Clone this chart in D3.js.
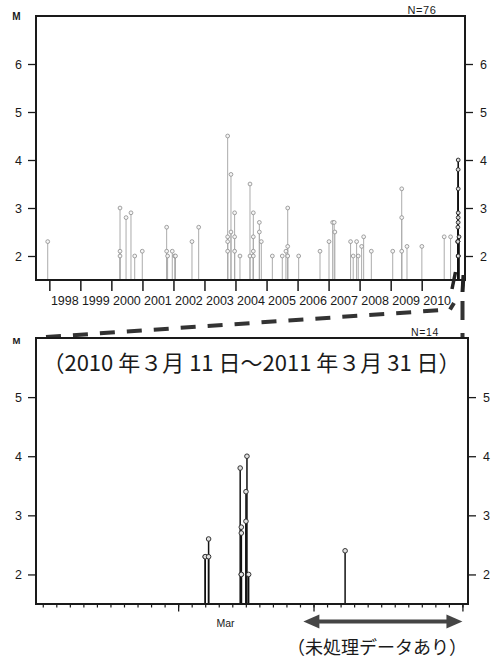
<!DOCTYPE html>
<html>
<head>
<meta charset="utf-8">
<script src="https://cdn.jsdelivr.net/npm/d3@7"></script>
<style>
  body { margin: 0; background: #fff; }
  svg { display: block; }
  text { font-family: "Liberation Sans", Arial, sans-serif; fill: #1a1a1a; }
</style>
</head>
<body>
<svg id="chart" width="494" height="662"></svg>
<script>
// ---- data: whole period (grey), 1997-10 .. 2010
const longDates = [
  "1997-12-13", "2000-04-12", "2000-04-12", "2000-04-12", "2000-06-22", "2000-08-19", "2000-10-02", "2000-12-30",
  "2001-10-13", "2001-10-13", "2001-10-24", "2001-12-18", "2002-01-16", "2002-01-25", "2002-08-07", "2002-10-25",
  "2003-10-01", "2003-10-01", "2003-10-01", "2003-10-01", "2003-11-09", "2003-11-09", "2003-12-22", "2003-12-22",
  "2003-12-22", "2004-02-23", "2004-06-20", "2004-06-20", "2004-07-29", "2004-07-29", "2004-07-29", "2004-07-29",
  "2004-10-08", "2004-10-08", "2004-10-31", "2005-03-10", "2005-07-05", "2005-08-17", "2005-09-07", "2005-09-07",
  "2005-09-07", "2006-01-14", "2006-09-22", "2007-01-06", "2007-02-18", "2007-03-08", "2007-03-16", "2007-09-17",
  "2007-10-18", "2007-11-27", "2007-12-16", "2008-01-25", "2008-02-18", "2008-05-18", "2009-01-25", "2009-05-11",
  "2009-05-11", "2009-05-11", "2009-07-12", "2010-01-03", "2010-09-23", "2010-12-07"
];
const longMags = [
  2.3, 3.0, 2.1, 2.0, 2.8, 2.9, 2.0, 2.1,
  2.6, 2.1, 2.0, 2.1, 2.0, 2.0, 2.3, 2.6,
  4.5, 2.4, 2.3, 2.1, 3.7, 2.5, 2.9, 2.4,
  2.1, 2.0, 3.5, 2.0, 2.9, 2.4, 2.1, 2.0,
  2.7, 2.5, 2.3, 2.0, 2.0, 2.1, 3.0, 2.2,
  2.0, 2.0, 2.1, 2.3, 2.7, 2.7, 2.5, 2.3,
  2.0, 2.3, 2.0, 2.2, 2.4, 2.1, 2.1, 3.4,
  2.8, 2.1, 2.2, 2.2, 2.4, 2.4
];
// ---- data: recent period (black)
const recentDates = [
  "2011-03-13T00:00", "2011-03-13T00:00", "2011-03-13T06:00", "2011-03-13T06:00", "2011-03-15T14:00",
  "2011-03-15T16:00", "2011-03-15T16:00", "2011-03-15T16:00", "2011-03-15T16:00", "2011-03-16T00:15",
  "2011-03-16T00:15", "2011-03-16T02:00", "2011-03-16T05:00", "2011-03-23T08:00"
];
const recentMags = [2.3, 2.3, 2.3, 2.6, 3.8, 2.8, 2.7, 2.0, 2.0, 3.4, 2.9, 4.0, 2.0, 2.4];

const yearLabels = ["1998", "1999", "2000", "2001", "2002", "2003", "2004", "2005", "2006", "2007", "2008", "2009", "2010"];
const magTicksTop = [2, 3, 4, 5, 6];
const magTicksBottom = [2, 3, 4, 5];
const longTickDates = ["2011-03-11T00:00", "2011-03-21T00:00", "2011-04-01T00:00"];
const unprocessed = ["2011-03-20T06:00", "2011-04-01T00:00"];
const monthLabel = { text: "Mar", date: "2011-03-14T12:00" };
const titleText = "（2010 年３月 11 日～2011 年３月 31 日）";
const noteText = "（未処理データあり）";

const pDay = d3.timeParse("%Y-%m-%d");
const pTime = d3.timeParse("%Y-%m-%dT%H:%M");
const longEv = longDates.map((d, i) => ({ t: pDay(d), m: longMags[i] }));
const recentEv = recentDates.map((d, i) => ({ t: pTime(d), m: recentMags[i] }));

const svg = d3.select("#chart");
const INK = "#1a1a1a";

// ---------- top panel ----------
const T = { x0: 36, x1: 465, y0: 16, y1: 280 };
const xTop = d3.scaleTime().domain([pDay("1997-07-28"), pDay("2011-01-01")]).range([T.x0, 452.7]);
const xInset = d3.scaleTime().domain([pTime("2011-02-28T12:00"), pTime("2011-04-01T09:00")]).range([456.5, 460]);
const yTop = d3.scaleLinear().domain([1.5, 7]).range([T.y1, T.y0]);

const gTop = svg.append("g");

function stems(g, data, x, y, base, opt) {
  g.selectAll(null).data(data).enter().append("line")
    .attr("x1", d => x(d.t)).attr("x2", d => x(d.t))
    .attr("y1", base).attr("y2", d => y(d.m))
    .attr("stroke", opt.line).attr("stroke-width", opt.lw);
  g.selectAll(null).data(data).enter().append("circle")
    .attr("cx", d => x(d.t)).attr("cy", d => y(d.m)).attr("r", opt.r)
    .attr("fill", opt.fill).attr("stroke", opt.dot).attr("stroke-width", opt.dw);
}

stems(gTop.append("g"), longEv, xTop, yTop, T.y1, { line: "#ababab", lw: 1, r: 1.9, fill: "#f6f6f6", dot: "#8c8c8c", dw: 0.8 });
stems(gTop.append("g"), recentEv, xInset, yTop, T.y1, { line: "#111", lw: 1.6, r: 1.9, fill: "#ddd", dot: "#222", dw: 0.9 });

gTop.append("rect").attr("x", T.x0).attr("y", T.y0).attr("width", T.x1 - T.x0).attr("height", T.y1 - T.y0)
  .attr("fill", "none").attr("stroke", INK).attr("stroke-width", 2);

function magAxes(g, y, ticks, x0, x1) {
  const fmt = d3.format("d");
  const l = g.append("g").attr("transform", `translate(${x0},0)`)
    .call(d3.axisLeft(y).tickValues(ticks).tickFormat(fmt).tickSize(8).tickPadding(6));
  const r = g.append("g").attr("transform", `translate(${x1},0)`)
    .call(d3.axisRight(y).tickValues(ticks).tickFormat(fmt).tickSize(8).tickPadding(7));
  [l, r].forEach(a => {
    a.select(".domain").remove();
    a.selectAll("line").attr("stroke", INK).attr("stroke-width", 1.3);
    a.selectAll("text").style("font-size", "12.5px").attr("fill", INK);
  });
}
magAxes(gTop, yTop, magTicksTop, T.x0, T.x1);

// year ticks and labels
const years = yearLabels.map(y => pDay(y + "-01-01"));
const yx = gTop.append("g").attr("transform", `translate(0,${T.y1})`)
  .call(d3.axisBottom(xTop).tickValues(years).tickSize(11).tickFormat(""));
yx.select(".domain").remove();
yx.selectAll("line").attr("stroke", INK).attr("stroke-width", 1.5);
gTop.selectAll(".yl").data(yearLabels).enter().append("text")
  .attr("x", d => xTop(pDay(d + "-07-02")))
  .attr("y", 305).attr("text-anchor", "middle")
  .style("font-size", "12.5px").text(d => d);

gTop.append("text").attr("x", 16.5).attr("y", 20).attr("text-anchor", "middle")
  .style("font-size", "10px").style("font-weight", "bold").text("M");
gTop.append("text").attr("x", 422).attr("y", 13.5).attr("text-anchor", "middle")
  .style("font-size", "11px").style("letter-spacing", "0.6px").text("N=76");

// axis break and zoom connectors
const br = svg.append("g").attr("stroke", "#222").attr("fill", "none");
br.append("line").attr("x1", 452).attr("y1", 289).attr("x2", 455.5).attr("y2", 272).attr("stroke-width", 3.5);
br.append("line").attr("x1", 462.5).attr("y1", 292).attr("x2", 463.5).attr("y2", 275).attr("stroke-width", 4);
br.append("path").attr("d", "M46,337 L450,309.5 L454,303")
  .attr("stroke-width", 4).attr("stroke-dasharray", "15,12").attr("stroke", "#333");
br.append("line").attr("x1", 462.5).attr("y1", 301).attr("x2", 462.5).attr("y2", 338)
  .attr("stroke-width", 4).attr("stroke-dasharray", "19,13").attr("stroke", "#333");

// ---------- bottom panel ----------
const B = { x0: 36, x1: 468, y0: 338, y1: 604 };
const xBot = d3.scaleTime().domain([pTime("2011-02-28T12:00"), pTime("2011-04-01T09:00")]).range([B.x0, 467.5]);
const yBot = d3.scaleLinear().domain([1.5, 6]).range([B.y1, B.y0]);
const gBot = svg.append("g");

stems(gBot.append("g"), recentEv, xBot, yBot, B.y1, { line: "#111", lw: 1.5, r: 2.3, fill: "#e2e2e2", dot: "#333", dw: 1 });

gBot.append("rect").attr("x", B.x0).attr("y", B.y0).attr("width", B.x1 - B.x0).attr("height", B.y1 - B.y0)
  .attr("fill", "none").attr("stroke", INK).attr("stroke-width", 2);
magAxes(gBot, yBot, magTicksBottom, B.x0, B.x1);

const days = d3.timeDay.range(xBot.domain()[0], xBot.domain()[1]);
const dx = gBot.append("g").attr("transform", `translate(0,${B.y1})`)
  .call(d3.axisBottom(xBot).tickValues(days).tickSize(3.5).tickFormat(""));
dx.select(".domain").remove();
dx.selectAll("line").attr("stroke", INK).attr("stroke-width", 1.2);
const lx = gBot.append("g").attr("transform", `translate(0,${B.y1})`)
  .call(d3.axisBottom(xBot).tickValues(longTickDates.map(pTime)).tickSize(7.5).tickFormat(""));
lx.select(".domain").remove();
lx.selectAll("line").attr("stroke", INK).attr("stroke-width", 1.3);

gBot.append("text").attr("x", xBot(pTime(monthLabel.date))).attr("y", 627).attr("text-anchor", "middle")
  .style("font-size", "10.5px").text(monthLabel.text);

gBot.append("text").attr("x", 16.5).attr("y", 343.5).attr("text-anchor", "middle")
  .style("font-size", "9.5px").style("font-weight", "bold").text("M");
gBot.append("text").attr("x", 425).attr("y", 336).attr("text-anchor", "middle")
  .style("font-size", "10.5px").style("letter-spacing", "0.6px").text("N=14");

gBot.append("text").attr("x", 251.5).attr("y", 371).attr("text-anchor", "middle")
  .style("font-family", "'Noto Sans CJK JP', sans-serif").style("font-size", "22px").text(titleText);

// unprocessed-data arrow
const ax0 = xBot(pTime(unprocessed[0])), ax1 = xBot(pTime(unprocessed[1])), ay = 621.5;
const arrow = gBot.append("g").attr("fill", "#454545").attr("stroke", "none");
arrow.append("rect").attr("x", ax0 + 10).attr("y", ay - 2).attr("width", ax1 - ax0 - 20).attr("height", 4);
arrow.append("path").attr("d", `M${ax0},${ay} L${ax0 + 16},${ay - 7} L${ax0 + 16},${ay + 7} Z`);
arrow.append("path").attr("d", `M${ax1},${ay} L${ax1 - 16},${ay - 7} L${ax1 - 16},${ay + 7} Z`);

gBot.append("text").attr("x", 377).attr("y", 654).attr("text-anchor", "middle")
  .style("font-family", "'Noto Sans CJK JP', sans-serif").style("font-size", "18px").text(noteText);
</script>
</body>
</html>
